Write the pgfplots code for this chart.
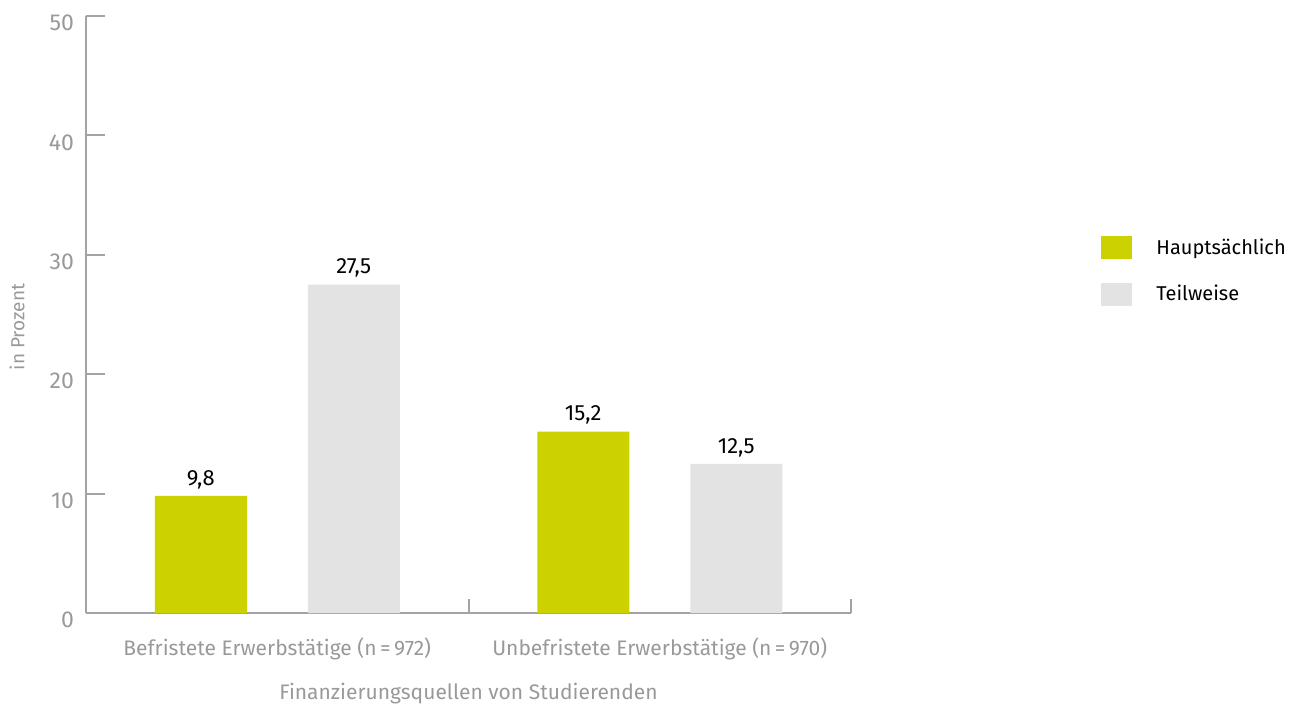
\documentclass[border=0pt]{standalone}
\usepackage{pgfplots}
\pgfplotsset{compat=1.18}
\usepackage{fontspec}
\setmainfont{Fira Sans}
\usetikzlibrary{calc}
\definecolor{cgreen}{HTML}{CCD100}
\definecolor{cgray}{HTML}{E2E3E2}
\definecolor{axgray}{HTML}{A3A3A3}
\definecolor{txgray}{HTML}{999999}
\begin{document}
\begin{tikzpicture}
\begin{axis}[
  scale only axis,
  width=382.5pt, height=298.5pt,
  xmin=-0.5, xmax=1.5, ymin=0, ymax=50,
  axis x line*=bottom, axis y line*=left,
  axis line style={axgray, line width=1pt, -},
  tick align=inside,
  xtick={-0.5,0.5,1.5},
  xticklabels={},
  extra x ticks={0,1},
  extra x tick labels={Befristete Erwerbstätige (n\,=\,972),Unbefristete Erwerbstätige (n\,=\,970)},
  extra x tick style={major tick length=0pt, tick label style={yshift=-9pt}},
  ytick={0,10,20,30,40,50},
  tick style={axgray, line width=1pt},
  major tick length=7pt,
  y tick style={/pgfplots/major tick length=9.5pt},
  x tick style={yshift=7pt},
  tick label style={font=\fontsize{10.5pt}{12pt}\selectfont, text=txgray},
  yticklabel style={font=\fontsize{11.5pt}{13pt}\selectfont, xshift=-2.5pt, yshift=-3.5pt},
  /pgf/number format/assume math mode=true,
  ylabel={in Prozent},
  ylabel style={font=\fontsize{9.5pt}{11pt}\selectfont, text=txgray, at={(axis description cs:-0.09,0.479)}, anchor=center},
  xlabel={Finanzierungsquellen von Studierenden},
  xlabel style={font=\fontsize{10.5pt}{12pt}\selectfont, text=txgray, yshift=2.5pt},
  ybar=0pt, bar width=46pt,
  nodes near coords,
  nodes near coords style={font=\fontsize{11pt}{13pt}\selectfont, text=black, /pgf/number format/.cd, use comma, fixed, fixed zerofill, precision=1, assume math mode=true},
  legend style={at={(rel axis cs:1.319,0.6415)}, anchor=north west, draw=none, fill=none,
    font=\fontsize{10pt}{12pt}\selectfont, row sep=10pt, cells={anchor=west}},
  legend image code/.code={\fill[#1] (0pt,-5.75pt) rectangle (15.5pt,5.75pt);},
  clip=false,
]
\addplot[fill=cgreen, draw=none, bar shift=-0.2*382.5pt/2] coordinates {(0,9.8) (1,15.2)};
\addplot[fill=cgray, draw=none, bar shift=0.2*382.5pt/2] coordinates {(0,27.5) (1,12.5)};
\legend{\hspace{10pt}Hauptsächlich,\hspace{10pt}Teilweise}
\end{axis}
\path[use as bounding box] ($(current axis.south west)+(-43pt,-44.5pt)$) rectangle ($(current axis.north east)+(227.5pt,8pt)$);
\end{tikzpicture}
\end{document}
